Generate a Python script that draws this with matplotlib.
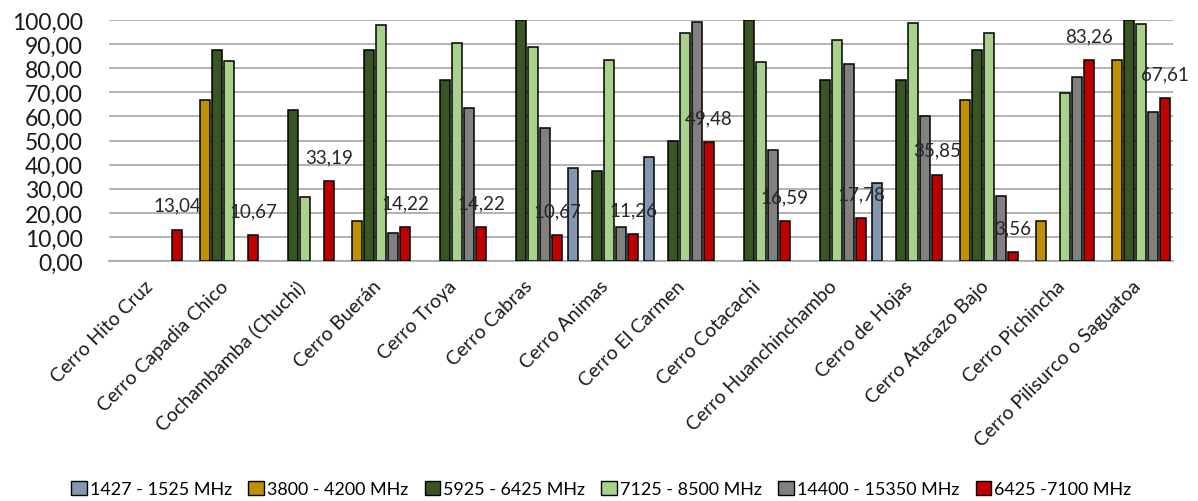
import numpy as np
import matplotlib
matplotlib.use("Agg")
import matplotlib.pyplot as plt
from matplotlib.patches import Patch
from matplotlib.ticker import FuncFormatter, MultipleLocator
from matplotlib.transforms import ScaledTranslation

plt.rcParams['font.family'] = ['Lato', 'DejaVu Sans']

sites = ["Cerro Hito Cruz", "Cerro Capadia Chico", "Cochambamba (Chuchi)", "Cerro Buerán",
         "Cerro Troya", "Cerro Cabras", "Cerro Animas", "Cerro El Carmen", "Cerro Cotacachi",
         "Cerro Huanchinchambo", "Cerro de Hojas", "Cerro Atacazo Bajo", "Cerro Pichincha",
         "Cerro Pilisurco o Saguatoa"]

bands = ["1427 - 1525 MHz", "3800 - 4200 MHz", "5925 - 6425 MHz",
         "7125 - 8500 MHz", "14400 - 15350 MHz", "6425 -7100 MHz"]

# 0 means the band is not used at that site (no bar)
band_1427 = [0, 0, 0, 0, 0, 0, 38.6, 43.2, 0, 0, 32.2, 0, 0, 0]
band_3800 = [0, 66.67, 0, 16.67, 0, 0, 0, 0, 0, 0, 0, 66.67, 16.67, 83.33]
band_5925 = [0, 87.5, 62.5, 87.5, 75.0, 100.0, 37.5, 50.0, 100.0, 75.0, 75.0, 87.5, 0, 100.0]
band_7125 = [0, 83.0, 26.67, 98.0, 90.5, 88.7, 83.3, 94.5, 82.7, 91.8, 98.9, 94.5, 69.6, 98.3]
band_14400 = [0, 0, 0, 11.6, 63.6, 55.2, 14.2, 99.4, 46.1, 81.9, 60.4, 27.1, 76.5, 61.7]
band_6425 = [13.04, 10.67, 33.19, 14.22, 14.22, 10.67, 11.26, 49.48, 16.59, 17.78,
             35.85, 3.56, 83.26, 67.61]

series = [band_1427, band_3800, band_5925, band_7125, band_14400, band_6425]
colors = ["#8497b0", "#bf9000", "#375623", "#a9d18e", "#808080", "#c00000"]

fig = plt.figure(figsize=(11.98, 5.02), dpi=100)
ax = fig.add_axes([0.091, 0.478, 0.888, 0.480])

x = np.arange(len(sites))
slot = 0.158
bar_w = 0.135
for i, (vals, col) in enumerate(zip(series, colors)):
    vals = np.asarray(vals, dtype=float)
    pos = x + (i - 2.5) * slot
    keep = vals > 0
    ax.bar(pos[keep], vals[keep], width=bar_w, color=col, edgecolor="black",
           linewidth=1.1, zorder=3)

# value labels for the 6425-7100 MHz band
red_pos = x + 2.5 * slot
for px, v in zip(red_pos, band_6425):
    ax.annotate(f"{v:.2f}".replace(".", ","), (px, v), xytext=(0, 17.5),
                textcoords="offset points", ha="center", va="center",
                fontsize=13.5, color="#262626", zorder=4)

ax.set_xlim(-0.5, len(sites) - 0.5)
ax.set_ylim(0, 100)
ax.yaxis.set_major_locator(MultipleLocator(10))
ax.yaxis.set_major_formatter(FuncFormatter(lambda v, p: f"{v:.2f}".replace(".", ",")))
ax.grid(axis="y", color="#a6a6a6", linewidth=1.2, zorder=0)
ax.set_axisbelow(True)
for s in ["top", "right", "left"]:
    ax.spines[s].set_visible(False)
ax.spines["bottom"].set_color("#a6a6a6")
ax.spines["bottom"].set_linewidth(1.2)
ax.tick_params(axis="y", length=0, pad=19, labelsize=16.5, labelcolor="#1a1a1a")
ax.tick_params(axis="x", length=0, pad=0)

ax.set_xticks(x)
ax.set_xticklabels(sites, rotation=45, ha="right", va="center",
                   rotation_mode="anchor", fontsize=14, color="#1a1a1a")
shift = ScaledTranslation(0.03, -0.22, fig.dpi_scale_trans)
for lab in ax.get_xticklabels():
    lab.set_transform(lab.get_transform() + shift)

handles = [Patch(facecolor=c, edgecolor="black", linewidth=1.0, label=b)
           for c, b in zip(colors, bands)]
fig.legend(handles=handles, loc="center", bbox_to_anchor=(0.502, 0.024), ncol=6,
           frameon=False, handlelength=0.85, handleheight=0.85,
           handletextpad=0.2, columnspacing=0.9, fontsize=12.9)

fig.savefig("out.png", dpi=100)
